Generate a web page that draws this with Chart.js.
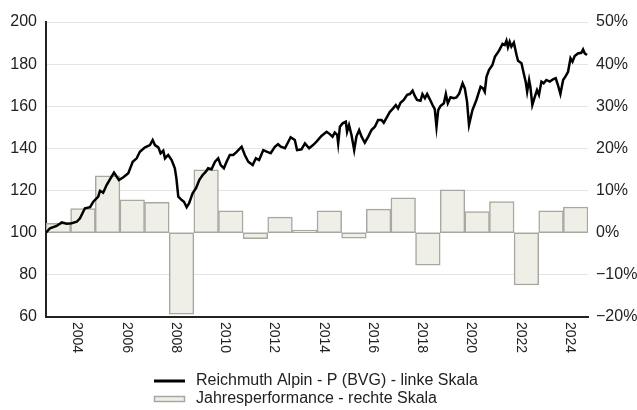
<!DOCTYPE html>
<html>
<head>
<meta charset="utf-8">
<script src="https://cdn.jsdelivr.net/npm/chart.js@4/dist/chart.umd.min.js"></script>
<style>
  html, body { margin: 0; padding: 0; background: #fff; }
  #wrap { width: 637px; height: 410px; }
</style>
</head>
<body>
<div id="wrap"><canvas id="chart" width="637" height="410"></canvas></div>
<script>
// Jahresperformance (rechte Skala, in %)
const years = [2003, 2004, 2005, 2006, 2007, 2008, 2009, 2010, 2011, 2012, 2013,
  2014, 2015, 2016, 2017, 2018, 2019, 2020, 2021, 2022, 2023, 2024];
const yearPerf = [2.2, 5.7, 13.5, 7.8, 7.2, -19.3, 14.9, 5.2, -1.4, 3.7, 0.6,
  5.2, -1.3, 5.6, 8.3, -7.7, 10.2, 5.0, 7.4, -12.4, 5.2, 6.1];

// Reichmuth Alpin - P (BVG), indexiert (linke Skala)
const lineDates = [
  2003.00, 2003.16, 2003.43, 2003.64, 2003.84, 2004.04, 2004.25, 2004.38, 2004.58, 2004.79,
  2004.92, 2005.12, 2005.19, 2005.32, 2005.46, 2005.62, 2005.76, 2005.96, 2006.14, 2006.34,
  2006.52, 2006.68, 2006.81, 2007.02, 2007.22, 2007.33, 2007.42, 2007.56, 2007.65, 2007.76,
  2007.83, 2007.96, 2008.10, 2008.23, 2008.29, 2008.37, 2008.51, 2008.60, 2008.71, 2008.81,
  2008.95, 2009.09, 2009.22, 2009.36, 2009.49, 2009.58, 2009.72, 2009.86, 2009.99, 2010.09,
  2010.22, 2010.33, 2010.46, 2010.60, 2010.74, 2010.94, 2011.07, 2011.21, 2011.39, 2011.52,
  2011.65, 2011.82, 2011.98, 2012.12, 2012.29, 2012.42, 2012.53, 2012.70, 2012.93, 2013.10,
  2013.19, 2013.37, 2013.51, 2013.68, 2013.84, 2013.98, 2014.18, 2014.39, 2014.52, 2014.63,
  2014.72, 2014.82, 2014.86, 2014.93, 2015.04, 2015.17, 2015.22, 2015.30, 2015.40, 2015.51,
  2015.60, 2015.71, 2015.81, 2015.94, 2016.08, 2016.21, 2016.35, 2016.48, 2016.62, 2016.71,
  2016.85, 2016.96, 2017.09, 2017.20, 2017.29, 2017.39, 2017.52, 2017.66, 2017.77, 2017.88,
  2017.97, 2018.06, 2018.20, 2018.28, 2018.38, 2018.47, 2018.58, 2018.69, 2018.78, 2018.85,
  2018.92, 2019.01, 2019.15, 2019.23, 2019.31, 2019.42, 2019.55, 2019.66, 2019.77, 2019.91,
  2020.00, 2020.09, 2020.17, 2020.31, 2020.47, 2020.64, 2020.74, 2020.81, 2020.88, 2020.98,
  2021.12, 2021.22, 2021.39, 2021.53, 2021.62, 2021.69, 2021.75, 2021.82, 2021.89, 2021.99,
  2022.10, 2022.16, 2022.30, 2022.39, 2022.47, 2022.53, 2022.61, 2022.66, 2022.74, 2022.84,
  2022.93, 2023.01, 2023.11, 2023.20, 2023.31, 2023.45, 2023.58, 2023.69, 2023.78, 2023.88,
  2023.99, 2024.10, 2024.19, 2024.29, 2024.37, 2024.46, 2024.59, 2024.73, 2024.80, 2024.87,
  2024.96
];
const lineValues = [
  100.0, 102.1, 103.2, 104.9, 104.3, 104.5, 105.2, 106.8, 111.6, 112.1,
  114.7, 117.1, 119.9, 119.0, 122.6, 125.8, 128.5, 125.0, 126.3, 128.2,
  133.7, 135.3, 138.4, 140.5, 141.6, 144.0, 141.6, 140.5, 137.7, 138.9,
  135.3, 136.9, 134.5, 130.6, 126.0, 117.1, 115.5, 114.7, 112.1, 114.0,
  118.7, 121.1, 125.0, 127.4, 129.0, 130.6, 130.1, 133.7, 135.3, 132.1,
  130.6, 133.7, 136.9, 136.9, 138.4, 140.8, 136.9, 133.7, 132.1, 135.3,
  134.5, 139.2, 138.4, 137.7, 140.8, 142.0, 140.8, 140.1, 145.3, 144.0,
  139.2, 139.6, 142.4, 140.1, 141.6, 143.2, 145.9, 147.9, 146.8, 145.6,
  147.5, 146.4, 142.4, 150.3, 151.9, 152.7, 147.9, 151.1, 146.4, 139.2,
  145.6, 148.7, 145.6, 142.7, 145.6, 148.7, 150.3, 153.5, 153.5, 152.2,
  155.1, 157.4, 159.0, 160.6, 159.0, 161.7, 163.0, 165.4, 165.8, 167.4,
  164.9, 163.0, 162.6, 165.8, 163.8, 165.8, 163.3, 160.6, 158.6, 150.3,
  158.2, 160.1, 161.4, 165.8, 161.4, 164.3, 163.8, 164.2, 166.0, 170.9,
  168.5, 162.2, 151.1, 158.2, 163.0, 169.3, 168.5, 166.9, 174.0, 177.2,
  179.6, 183.5, 186.4, 189.6, 189.1, 191.1, 188.0, 190.6, 188.3, 190.2,
  184.3, 181.6, 180.4, 175.7, 171.7, 166.9, 172.5, 169.3, 160.6, 164.5,
  167.7, 165.4, 171.7, 170.9, 172.5, 171.7, 172.8, 173.3, 170.1, 165.8,
  172.5, 174.4, 176.4, 182.8, 181.2, 183.9, 185.1, 185.4, 187.0, 185.1,
  184.3
];

const tickYears = [2004, 2006, 2008, 2010, 2012, 2014, 2016, 2018, 2020, 2022, 2024];
const legendLabels = ['Reichmuth Alpin - P (BVG) - linke Skala', 'Jahresperformance - rechte Skala'];

const FONT = '"Liberation Sans", Arial, sans-serif';
const TEXT = '#222';
const BAR_FILL = '#efefe7';
const BAR_LINE = '#a8a8a2';

function formatPct(v) {
  return (v < 0 ? '\u2212' + Math.abs(v) : String(v)) + '%';
}

// x labels read top-down, plus the stacked legend below
const extras = {
  id: 'extras',
  afterDraw(chart) {
    const { ctx } = chart;
    const x = chart.scales.x;
    ctx.save();
    ctx.fillStyle = TEXT;
    ctx.font = '14px ' + FONT;
    ctx.textAlign = 'left';
    ctx.textBaseline = 'middle';
    tickYears.forEach(yr => {
      ctx.save();
      ctx.translate(x.getPixelForValue(yr) + 6.5, x.top + 5);
      ctx.rotate(Math.PI / 2);
      ctx.fillText(String(yr), 0, 0);
      ctx.restore();
    });

    ctx.font = '16px ' + FONT;
    ctx.strokeStyle = '#000';
    ctx.lineWidth = 3;
    ctx.beginPath();
    ctx.moveTo(154, 381);
    ctx.lineTo(185, 381);
    ctx.stroke();
    ctx.fillText(legendLabels[0], 196, 381);

    ctx.fillStyle = BAR_FILL;
    ctx.fillRect(154.5, 396.5, 30, 5);
    ctx.strokeStyle = BAR_LINE;
    ctx.lineWidth = 1.5;
    ctx.strokeRect(154.5, 396.5, 30, 5);
    ctx.fillStyle = TEXT;
    ctx.fillText(legendLabels[1], 196, 399);
    ctx.restore();
  }
};

new Chart(document.getElementById('chart').getContext('2d'), {
  type: 'bar',
  data: {
    datasets: [
      {
        type: 'line',
        label: legendLabels[0],
        data: lineDates.map((d, i) => ({ x: d, y: lineValues[i] })),
        yAxisID: 'y',
        borderColor: '#000',
        borderWidth: 2.5,
        pointRadius: 0,
        tension: 0,
        order: 0
      },
      {
        type: 'bar',
        label: legendLabels[1],
        data: years.map((y, i) => ({ x: y + 0.5, y: yearPerf[i] })),
        yAxisID: 'y2',
        backgroundColor: BAR_FILL,
        borderColor: BAR_LINE,
        borderWidth: 1.5,
        borderSkipped: false,
        barPercentage: 1,
        categoryPercentage: 1,
        order: 1
      }
    ]
  },
  options: {
    responsive: false,
    animation: false,
    layout: { padding: { top: 22, left: 0, right: 0, bottom: 0 } },
    plugins: {
      legend: { display: false },
      tooltip: { enabled: false }
    },
    scales: {
      x: {
        type: 'linear',
        offset: false,
        min: 2003,
        max: 2025,
        ticks: { display: false, stepSize: 2 },
        grid: { display: false, offset: false },
        border: { display: true, color: '#222', width: 2 },
        afterFit: s => { s.height = 93; }
      },
      y: {
        position: 'left',
        min: 60,
        max: 200,
        ticks: { stepSize: 20, padding: 9, color: TEXT, font: { size: 16, family: FONT } },
        grid: { color: '#e4e4e4', lineWidth: 1, drawTicks: false },
        border: { display: true, color: '#222', width: 2 },
        afterFit: s => { s.width = 46; }
      },
      y2: {
        position: 'right',
        min: -20,
        max: 50,
        ticks: { stepSize: 10, padding: 8, color: TEXT, font: { size: 16, family: FONT }, callback: formatPct },
        grid: { display: false, drawTicks: false },
        border: { display: false },
        afterFit: s => { s.width = 49; }
      }
    }
  },
  plugins: [extras]
});
</script>
</body>
</html>
